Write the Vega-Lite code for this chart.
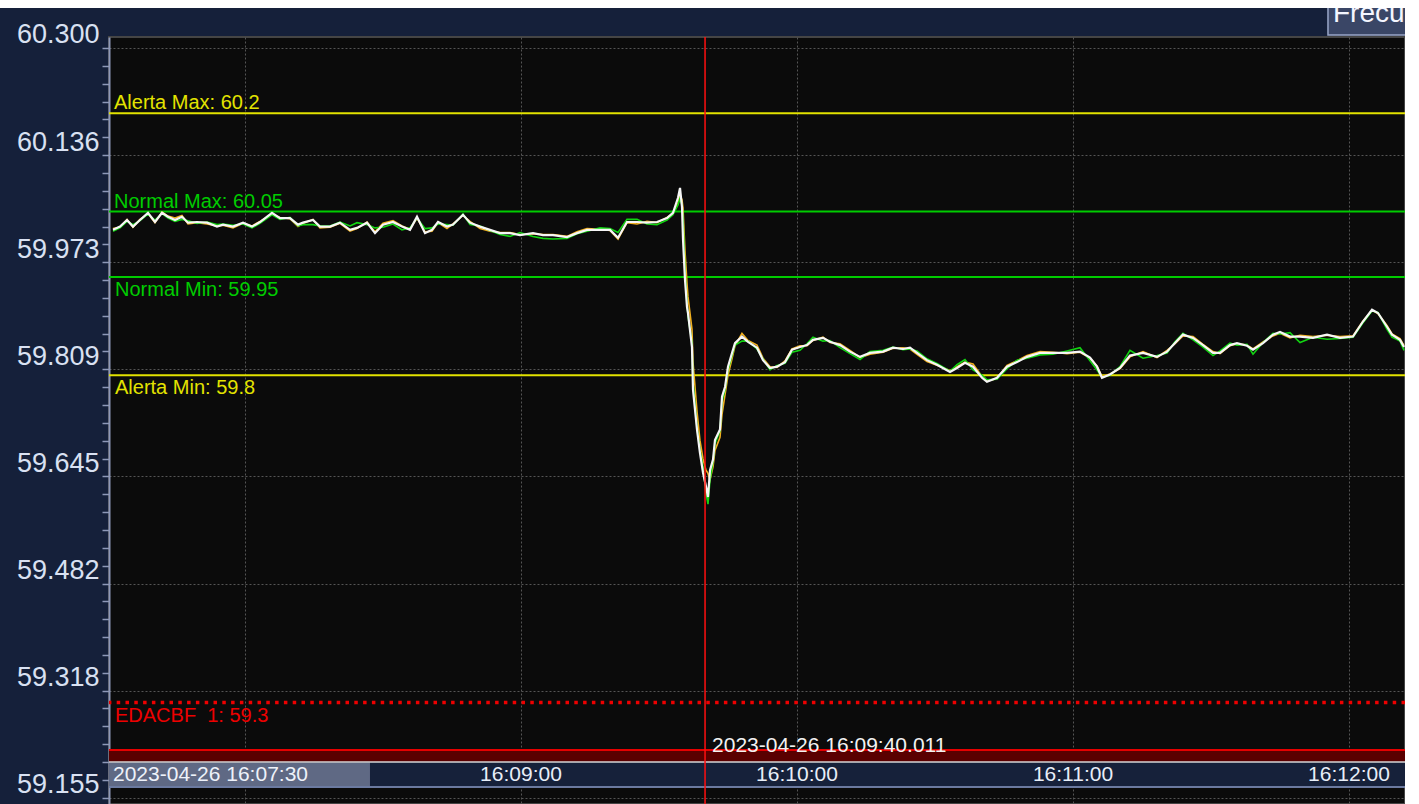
{
"$schema": "https://vega.github.io/schema/vega-lite/v6.json",
"width": 1296,
"height": 767,
"autosize": {"type": "none"},
"padding": {"left": 109, "top": 37, "right": 0, "bottom": 0},
"background": "#15203a",
"config": {"font": "Liberation Sans", "view": {"fill": "#0b0b0b", "stroke": "#454545", "strokeWidth": 2}},
"datasets": {
"freq": [
{"t":"2023-04-26T16:07:31.300","w":60.022,"g":60.020,"o":60.024},
{"t":"2023-04-26T16:07:32.830","w":60.027,"g":60.025,"o":60.026},
{"t":"2023-04-26T16:07:34.350","w":60.037,"g":60.035,"o":60.038},
{"t":"2023-04-26T16:07:35.650","w":60.027,"g":60.030,"o":60.026},
{"t":"2023-04-26T16:07:37.170","w":60.037,"g":60.036,"o":60.038},
{"t":"2023-04-26T16:07:38.910","w":60.048,"g":60.046,"o":60.047},
{"t":"2023-04-26T16:07:40.430","w":60.034,"g":60.037,"o":60.033},
{"t":"2023-04-26T16:07:41.960","w":60.048,"g":60.047,"o":60.049},
{"t":"2023-04-26T16:07:43.260","w":60.042,"g":60.040,"o":60.043},
{"t":"2023-04-26T16:07:44.780","w":60.037,"g":60.035,"o":60.040},
{"t":"2023-04-26T16:07:46.300","w":60.042,"g":60.038,"o":60.044},
{"t":"2023-04-26T16:07:47.610","w":60.033,"g":60.036,"o":60.031},
{"t":"2023-04-26T16:07:49.570","w":60.034,"g":60.032,"o":60.033},
{"t":"2023-04-26T16:07:51.740","w":60.033,"g":60.034,"o":60.031},
{"t":"2023-04-26T16:07:53.910","w":60.027,"g":60.030,"o":60.028},
{"t":"2023-04-26T16:07:55.220","w":60.030,"g":60.031,"o":60.029},
{"t":"2023-04-26T16:07:57.390","w":60.027,"g":60.029,"o":60.025},
{"t":"2023-04-26T16:07:59.570","w":60.033,"g":60.031,"o":60.032},
{"t":"2023-04-26T16:08:01.520","w":60.027,"g":60.025,"o":60.028},
{"t":"2023-04-26T16:08:03.260","w":60.034,"g":60.032,"o":60.035},
{"t":"2023-04-26T16:08:05.870","w":60.048,"g":60.045,"o":60.046},
{"t":"2023-04-26T16:08:07.610","w":60.040,"g":60.038,"o":60.041},
{"t":"2023-04-26T16:08:09.780","w":60.040,"g":60.041,"o":60.039},
{"t":"2023-04-26T16:08:11.520","w":60.030,"g":60.028,"o":60.027},
{"t":"2023-04-26T16:08:12.610","w":60.033,"g":60.030,"o":60.032},
{"t":"2023-04-26T16:08:14.780","w":60.037,"g":60.030,"o":60.038},
{"t":"2023-04-26T16:08:16.300","w":60.027,"g":60.028,"o":60.025},
{"t":"2023-04-26T16:08:18.480","w":60.027,"g":60.028,"o":60.026},
{"t":"2023-04-26T16:08:20.650","w":60.033,"g":60.034,"o":60.032},
{"t":"2023-04-26T16:08:22.830","w":60.022,"g":60.028,"o":60.020},
{"t":"2023-04-26T16:08:24.350","w":60.025,"g":60.033,"o":60.024},
{"t":"2023-04-26T16:08:26.520","w":60.033,"g":60.030,"o":60.034},
{"t":"2023-04-26T16:08:28.260","w":60.017,"g":60.025,"o":60.019},
{"t":"2023-04-26T16:08:30.000","w":60.030,"g":60.026,"o":60.032},
{"t":"2023-04-26T16:08:32.170","w":60.034,"g":60.031,"o":60.036},
{"t":"2023-04-26T16:08:34.130","w":60.027,"g":60.022,"o":60.028},
{"t":"2023-04-26T16:08:35.870","w":60.022,"g":60.025,"o":60.023},
{"t":"2023-04-26T16:08:37.390","w":60.042,"g":60.040,"o":60.040},
{"t":"2023-04-26T16:08:39.130","w":60.017,"g":60.024,"o":60.019},
{"t":"2023-04-26T16:08:40.650","w":60.022,"g":60.025,"o":60.020},
{"t":"2023-04-26T16:08:41.960","w":60.034,"g":60.031,"o":60.033},
{"t":"2023-04-26T16:08:43.910","w":60.027,"g":60.030,"o":60.024},
{"t":"2023-04-26T16:08:45.220","w":60.030,"g":60.029,"o":60.031},
{"t":"2023-04-26T16:08:47.390","w":60.045,"g":60.046,"o":60.044},
{"t":"2023-04-26T16:08:48.910","w":60.033,"g":60.030,"o":60.035},
{"t":"2023-04-26T16:08:51.090","w":60.027,"g":60.028,"o":60.024},
{"t":"2023-04-26T16:08:53.260","w":60.022,"g":60.021,"o":60.020},
{"t":"2023-04-26T16:08:55.430","w":60.017,"g":60.015,"o":60.018},
{"t":"2023-04-26T16:08:57.610","w":60.017,"g":60.012,"o":60.018},
{"t":"2023-04-26T16:08:59.780","w":60.014,"g":60.018,"o":60.015},
{"t":"2023-04-26T16:09:02.610","w":60.017,"g":60.012,"o":60.016},
{"t":"2023-04-26T16:09:04.780","w":60.014,"g":60.009,"o":60.015},
{"t":"2023-04-26T16:09:06.960","w":60.014,"g":60.008,"o":60.015},
{"t":"2023-04-26T16:09:10.000","w":60.011,"g":60.009,"o":60.012},
{"t":"2023-04-26T16:09:12.170","w":60.017,"g":60.016,"o":60.019},
{"t":"2023-04-26T16:09:14.350","w":60.022,"g":60.020,"o":60.024},
{"t":"2023-04-26T16:09:17.170","w":60.022,"g":60.025,"o":60.023},
{"t":"2023-04-26T16:09:19.350","w":60.022,"g":60.024,"o":60.021},
{"t":"2023-04-26T16:09:21.090","w":60.010,"g":60.018,"o":60.008},
{"t":"2023-04-26T16:09:23.040","w":60.034,"g":60.038,"o":60.033},
{"t":"2023-04-26T16:09:25.220","w":60.034,"g":60.038,"o":60.031},
{"t":"2023-04-26T16:09:27.390","w":60.033,"g":60.031,"o":60.035},
{"t":"2023-04-26T16:09:29.570","w":60.034,"g":60.030,"o":60.033},
{"t":"2023-04-26T16:09:31.740","w":60.040,"g":60.037,"o":60.041},
{"t":"2023-04-26T16:09:33.040","w":60.048,"g":60.045,"o":60.047},
{"t":"2023-04-26T16:09:34.130","w":60.071,"g":60.060,"o":60.062},
{"t":"2023-04-26T16:09:34.570","w":60.086,"g":60.070,"o":60.075},
{"t":"2023-04-26T16:09:35.000","w":60.057,"g":60.060,"o":60.068},
{"t":"2023-04-26T16:09:35.220","w":60.007,"g":60.040,"o":60.055},
{"t":"2023-04-26T16:09:35.650","w":59.946,"g":59.960,"o":59.990},
{"t":"2023-04-26T16:09:36.090","w":59.904,"g":59.910,"o":59.940},
{"t":"2023-04-26T16:09:36.300","w":59.895,"g":59.890,"o":59.920},
{"t":"2023-04-26T16:09:37.170","w":59.843,"g":59.850,"o":59.870},
{"t":"2023-04-26T16:09:37.390","w":59.778,"g":59.790,"o":59.820},
{"t":"2023-04-26T16:09:38.260","w":59.717,"g":59.720,"o":59.745},
{"t":"2023-04-26T16:09:38.910","w":59.681,"g":59.685,"o":59.700},
{"t":"2023-04-26T16:09:39.570","w":59.651,"g":59.660,"o":59.672},
{"t":"2023-04-26T16:09:40.220","w":59.630,"g":59.620,"o":59.655},
{"t":"2023-04-26T16:09:40.650","w":59.614,"g":59.603,"o":59.650},
{"t":"2023-04-26T16:09:41.090","w":59.655,"g":59.640,"o":59.640},
{"t":"2023-04-26T16:09:41.740","w":59.671,"g":59.668,"o":59.660},
{"t":"2023-04-26T16:09:42.170","w":59.701,"g":59.695,"o":59.685},
{"t":"2023-04-26T16:09:43.260","w":59.717,"g":59.715,"o":59.705},
{"t":"2023-04-26T16:09:43.700","w":59.767,"g":59.760,"o":59.740},
{"t":"2023-04-26T16:09:44.350","w":59.782,"g":59.778,"o":59.770},
{"t":"2023-04-26T16:09:45.000","w":59.813,"g":59.808,"o":59.800},
{"t":"2023-04-26T16:09:45.870","w":59.834,"g":59.830,"o":59.825},
{"t":"2023-04-26T16:09:46.520","w":59.849,"g":59.846,"o":59.845},
{"t":"2023-04-26T16:09:48.040","w":59.859,"g":59.852,"o":59.864},
{"t":"2023-04-26T16:09:49.350","w":59.851,"g":59.852,"o":59.853},
{"t":"2023-04-26T16:09:51.300","w":59.842,"g":59.840,"o":59.846},
{"t":"2023-04-26T16:09:52.610","w":59.823,"g":59.825,"o":59.826},
{"t":"2023-04-26T16:09:54.130","w":59.811,"g":59.808,"o":59.813},
{"t":"2023-04-26T16:09:55.650","w":59.813,"g":59.815,"o":59.812},
{"t":"2023-04-26T16:09:57.390","w":59.820,"g":59.818,"o":59.822},
{"t":"2023-04-26T16:09:58.910","w":59.839,"g":59.835,"o":59.840},
{"t":"2023-04-26T16:10:00.650","w":59.843,"g":59.838,"o":59.845},
{"t":"2023-04-26T16:10:02.170","w":59.846,"g":59.848,"o":59.845},
{"t":"2023-04-26T16:10:03.480","w":59.854,"g":59.858,"o":59.853},
{"t":"2023-04-26T16:10:05.650","w":59.857,"g":59.852,"o":59.858},
{"t":"2023-04-26T16:10:07.170","w":59.851,"g":59.853,"o":59.850},
{"t":"2023-04-26T16:10:09.350","w":59.846,"g":59.842,"o":59.848},
{"t":"2023-04-26T16:10:11.520","w":59.836,"g":59.833,"o":59.838},
{"t":"2023-04-26T16:10:13.700","w":59.828,"g":59.824,"o":59.827},
{"t":"2023-04-26T16:10:15.870","w":59.834,"g":59.836,"o":59.832},
{"t":"2023-04-26T16:10:18.700","w":59.836,"g":59.838,"o":59.835},
{"t":"2023-04-26T16:10:20.870","w":59.842,"g":59.843,"o":59.841},
{"t":"2023-04-26T16:10:23.040","w":59.840,"g":59.839,"o":59.842},
{"t":"2023-04-26T16:10:24.570","w":59.842,"g":59.840,"o":59.840},
{"t":"2023-04-26T16:10:26.090","w":59.834,"g":59.837,"o":59.832},
{"t":"2023-04-26T16:10:28.260","w":59.823,"g":59.825,"o":59.821},
{"t":"2023-04-26T16:10:30.430","w":59.816,"g":59.818,"o":59.815},
{"t":"2023-04-26T16:10:33.260","w":59.805,"g":59.806,"o":59.807},
{"t":"2023-04-26T16:10:34.780","w":59.811,"g":59.816,"o":59.813},
{"t":"2023-04-26T16:10:36.520","w":59.819,"g":59.824,"o":59.820},
{"t":"2023-04-26T16:10:38.260","w":59.813,"g":59.808,"o":59.817},
{"t":"2023-04-26T16:10:40.220","w":59.796,"g":59.800,"o":59.798},
{"t":"2023-04-26T16:10:41.300","w":59.790,"g":59.793,"o":59.791},
{"t":"2023-04-26T16:10:43.480","w":59.796,"g":59.794,"o":59.795},
{"t":"2023-04-26T16:10:45.650","w":59.813,"g":59.810,"o":59.815},
{"t":"2023-04-26T16:10:47.830","w":59.820,"g":59.823,"o":59.822},
{"t":"2023-04-26T16:10:50.000","w":59.828,"g":59.826,"o":59.830},
{"t":"2023-04-26T16:10:52.830","w":59.834,"g":59.831,"o":59.836},
{"t":"2023-04-26T16:10:55.650","w":59.834,"g":59.832,"o":59.835},
{"t":"2023-04-26T16:10:58.700","w":59.834,"g":59.837,"o":59.833},
{"t":"2023-04-26T16:11:01.520","w":59.836,"g":59.842,"o":59.835},
{"t":"2023-04-26T16:11:03.700","w":59.827,"g":59.822,"o":59.826},
{"t":"2023-04-26T16:11:05.220","w":59.813,"g":59.808,"o":59.814},
{"t":"2023-04-26T16:11:06.300","w":59.796,"g":59.797,"o":59.798},
{"t":"2023-04-26T16:11:08.040","w":59.801,"g":59.800,"o":59.802},
{"t":"2023-04-26T16:11:10.220","w":59.811,"g":59.813,"o":59.810},
{"t":"2023-04-26T16:11:12.390","w":59.830,"g":59.838,"o":59.828},
{"t":"2023-04-26T16:11:15.220","w":59.834,"g":59.826,"o":59.836},
{"t":"2023-04-26T16:11:18.260","w":59.828,"g":59.830,"o":59.827},
{"t":"2023-04-26T16:11:20.430","w":59.836,"g":59.834,"o":59.838},
{"t":"2023-04-26T16:11:22.170","w":59.849,"g":59.851,"o":59.848},
{"t":"2023-04-26T16:11:23.910","w":59.862,"g":59.864,"o":59.860},
{"t":"2023-04-26T16:11:26.090","w":59.857,"g":59.854,"o":59.859},
{"t":"2023-04-26T16:11:28.260","w":59.846,"g":59.843,"o":59.847},
{"t":"2023-04-26T16:11:30.430","w":59.834,"g":59.830,"o":59.836},
{"t":"2023-04-26T16:11:31.960","w":59.834,"g":59.837,"o":59.833},
{"t":"2023-04-26T16:11:34.130","w":59.846,"g":59.849,"o":59.845},
{"t":"2023-04-26T16:11:35.650","w":59.849,"g":59.846,"o":59.848},
{"t":"2023-04-26T16:11:37.830","w":59.845,"g":59.847,"o":59.846},
{"t":"2023-04-26T16:11:39.130","w":59.839,"g":59.832,"o":59.840},
{"t":"2023-04-26T16:11:41.300","w":59.849,"g":59.850,"o":59.851},
{"t":"2023-04-26T16:11:43.480","w":59.862,"g":59.864,"o":59.860},
{"t":"2023-04-26T16:11:45.000","w":59.866,"g":59.863,"o":59.864},
{"t":"2023-04-26T16:11:47.170","w":59.859,"g":59.865,"o":59.857},
{"t":"2023-04-26T16:11:49.350","w":59.859,"g":59.850,"o":59.861},
{"t":"2023-04-26T16:11:52.170","w":59.857,"g":59.858,"o":59.859},
{"t":"2023-04-26T16:11:55.220","w":59.862,"g":59.855,"o":59.861},
{"t":"2023-04-26T16:11:58.040","w":59.857,"g":59.856,"o":59.859},
{"t":"2023-04-26T16:12:00.870","w":59.859,"g":59.858,"o":59.860},
{"t":"2023-04-26T16:12:03.040","w":59.882,"g":59.880,"o":59.883},
{"t":"2023-04-26T16:12:05.000","w":59.900,"g":59.898,"o":59.899},
{"t":"2023-04-26T16:12:06.300","w":59.895,"g":59.896,"o":59.894},
{"t":"2023-04-26T16:12:08.260","w":59.874,"g":59.870,"o":59.876},
{"t":"2023-04-26T16:12:09.350","w":59.862,"g":59.858,"o":59.863},
{"t":"2023-04-26T16:12:11.090","w":59.854,"g":59.852,"o":59.856},
{"t":"2023-04-26T16:12:11.960","w":59.843,"g":59.838,"o":59.845}
],
"limits": [
{"name":"Alerta Max","value":60.2,"kind":"alerta","side":"max","label":"Alerta Max: 60.2"},
{"name":"Normal Max","value":60.05,"kind":"normal","side":"max","label":"Normal Max: 60.05"},
{"name":"Normal Min","value":59.95,"kind":"normal","side":"min","label":"Normal Min: 59.95"},
{"name":"Alerta Min","value":59.8,"kind":"alerta","side":"min","label":"Alerta Min: 59.8"},
{"name":"EDACBF 1","value":59.3,"kind":"edac","side":"min","label":"EDACBF\u00a0 1: 59.3"}
],
"timelabels": [
{"t":"2023-04-26T16:09:00.000","label":"16:09:00"},
{"t":"2023-04-26T16:10:00.000","label":"16:10:00"},
{"t":"2023-04-26T16:11:00.000","label":"16:11:00"},
{"t":"2023-04-26T16:12:00.000","label":"16:12:00"}
],
"start": [
{"t":"2023-04-26T16:07:30.000","label":"2023-04-26 16:07:30"}
],
"cursor": [
{"t":"2023-04-26T16:09:40.011","label":"2023-04-26 16:09:40.011"}
],
"tab": [
{"t":"2023-04-26T16:11:56.520","label":"Frecuencia"}
]
},
"layer": [
{
"data": {"values": [{}]},
"mark": {"type": "rect", "fill": "#5a0000"},
"encoding": {
"y": {"datum": 59.2275, "type": "quantitative", "scale": {"domain": [59.145, 60.3166], "nice": false, "zero": false}},
"y2": {"datum": 59.2092}
}
},
{
"data": {"values": [{}]},
"mark": {"type": "rule", "color": "#e60000", "strokeWidth": 2},
"encoding": {
"y": {"datum": 59.2275, "type": "quantitative", "scale": {"domain": [59.145, 60.3166], "nice": false, "zero": false}}
}
},
{
"data": {"name": "limits"},
"transform": [{"filter": "datum.kind != 'edac'"}],
"mark": {"type": "rule", "strokeWidth": 2},
"encoding": {
"y": {"field": "value", "type": "quantitative",
 "scale": {"domain": [59.145, 60.3166], "nice": false, "zero": false},
 "axis": {
  "values": [59.1546,59.18187,59.20913,59.2364,59.26367,59.29093,59.3182,59.34547,59.37273,59.4,59.42727,59.45453,59.4818,59.50907,59.53633,59.5636,59.59087,59.61813,59.6454,59.67267,59.69993,59.7272,59.75447,59.78173,59.809,59.83627,59.86353,59.8908,59.91807,59.94533,59.9726,59.99987,60.02713,60.0544,60.08167,60.10893,60.1362,60.16347,60.19073,60.218,60.24527,60.27253,60.2998],
  "tickCount": 200,
  "title": null,
  "labelExpr": "abs((datum.value-59.1546)/0.1636-round((datum.value-59.1546)/0.1636))<0.05 ? format(datum.value,'.3f') : ''",
  "labelFontSize": 27, "labelColor": "#d9e1f2", "labelFont": "Liberation Sans",
  "labelBaseline": "alphabetic", "labelOffset": -5, "labelPadding": 3,
  "labelOverlap": false, "labelFlush": false, "labelBound": false,
  "tickSize": 7, "tickColor": "#8e98b8", "tickWidth": 1.5,
  "domainColor": "#8e98b8", "domainWidth": 2,
  "grid": true, "gridColor": "#555555", "gridDash": [2, 2], "gridWidth": 1,
  "gridOpacity": {"condition": {"test": "abs((datum.value-59.1546)/0.1636-round((datum.value-59.1546)/0.1636))<0.05", "value": 1}, "value": 0}
 }},
"color": {"field": "kind", "type": "nominal", "scale": {"domain": ["alerta", "normal", "edac"], "range": ["#e3e300", "#00cc00", "#ee0000"]}, "legend": null}
}
},
{
"data": {"name": "limits"},
"transform": [{"filter": "datum.kind == 'edac'"}],
"mark": {"type": "rule", "color": "#ee0000", "strokeWidth": 3.5, "strokeDash": [3.5, 5.3]},
"encoding": {
"y": {"field": "value", "type": "quantitative", "scale": {"domain": [59.145, 60.3166], "nice": false, "zero": false}}
}
},
{
"data": {"name": "limits"},
"transform": [{"filter": "datum.side == 'max'"}],
"mark": {"type": "text", "align": "left", "baseline": "alphabetic", "dx": 5, "dy": -4, "fontSize": 20},
"encoding": {
"x": {"datum": {"year": 2023, "month": 4, "date": 26, "hours": 16, "minutes": 7, "seconds": 30, "milliseconds": 435}, "type": "temporal",
 "scale": {"domain": [{"year": 2023, "month": 4, "date": 26, "hours": 16, "minutes": 7, "seconds": 30, "milliseconds": 435}, {"year": 2023, "month": 4, "date": 26, "hours": 16, "minutes": 12, "seconds": 12, "milliseconds": 174}], "nice": false}},
"y": {"field": "value", "type": "quantitative", "scale": {"domain": [59.145, 60.3166], "nice": false, "zero": false}},
"text": {"field": "label"},
"color": {"field": "kind", "type": "nominal", "scale": {"domain": ["alerta", "normal", "edac"], "range": ["#e3e300", "#00cc00", "#ee0000"]}, "legend": null}
}
},
{
"data": {"name": "limits"},
"transform": [{"filter": "datum.side == 'min'"}],
"mark": {"type": "text", "align": "left", "baseline": "alphabetic", "dx": 6, "dy": 19, "fontSize": 20},
"encoding": {
"x": {"datum": {"year": 2023, "month": 4, "date": 26, "hours": 16, "minutes": 7, "seconds": 30, "milliseconds": 435}, "type": "temporal",
 "scale": {"domain": [{"year": 2023, "month": 4, "date": 26, "hours": 16, "minutes": 7, "seconds": 30, "milliseconds": 435}, {"year": 2023, "month": 4, "date": 26, "hours": 16, "minutes": 12, "seconds": 12, "milliseconds": 174}], "nice": false}},
"y": {"field": "value", "type": "quantitative", "scale": {"domain": [59.145, 60.3166], "nice": false, "zero": false}},
"text": {"field": "label"},
"color": {"field": "kind", "type": "nominal", "scale": {"domain": ["alerta", "normal", "edac"], "range": ["#e3e300", "#00cc00", "#ee0000"]}, "legend": null}
}
},
{
"data": {"name": "freq"},
"mark": {"type": "line", "color": "#f0b020", "strokeWidth": 1.6},
"encoding": {
"x": {"field": "t", "type": "temporal",
 "scale": {"domain": [{"year": 2023, "month": 4, "date": 26, "hours": 16, "minutes": 7, "seconds": 30, "milliseconds": 435}, {"year": 2023, "month": 4, "date": 26, "hours": 16, "minutes": 12, "seconds": 12, "milliseconds": 174}], "nice": false},
 "axis": {"values": [{"year": 2023, "month": 4, "date": 26, "hours": 16, "minutes": 8}, {"year": 2023, "month": 4, "date": 26, "hours": 16, "minutes": 9}, {"year": 2023, "month": 4, "date": 26, "hours": 16, "minutes": 10}, {"year": 2023, "month": 4, "date": 26, "hours": 16, "minutes": 11}, {"year": 2023, "month": 4, "date": 26, "hours": 16, "minutes": 12}],
  "tickCount": 50, "labels": false, "ticks": false, "domain": false, "title": null, "grid": true, "gridColor": "#555555", "gridDash": [2, 2], "gridWidth": 1}},
"y": {"field": "o", "type": "quantitative", "scale": {"domain": [59.145, 60.3166], "nice": false, "zero": false}}
}
},
{
"data": {"name": "freq"},
"mark": {"type": "line", "color": "#12d412", "strokeWidth": 1.6},
"encoding": {
"x": {"field": "t", "type": "temporal", "scale": {"domain": [{"year": 2023, "month": 4, "date": 26, "hours": 16, "minutes": 7, "seconds": 30, "milliseconds": 435}, {"year": 2023, "month": 4, "date": 26, "hours": 16, "minutes": 12, "seconds": 12, "milliseconds": 174}], "nice": false}},
"y": {"field": "g", "type": "quantitative", "scale": {"domain": [59.145, 60.3166], "nice": false, "zero": false}}
}
},
{
"data": {"name": "freq"},
"mark": {"type": "line", "color": "#f6f6f6", "strokeWidth": 2.2},
"encoding": {
"x": {"field": "t", "type": "temporal", "scale": {"domain": [{"year": 2023, "month": 4, "date": 26, "hours": 16, "minutes": 7, "seconds": 30, "milliseconds": 435}, {"year": 2023, "month": 4, "date": 26, "hours": 16, "minutes": 12, "seconds": 12, "milliseconds": 174}], "nice": false}},
"y": {"field": "w", "type": "quantitative", "scale": {"domain": [59.145, 60.3166], "nice": false, "zero": false}}
}
},
{
"data": {"values": [{}]},
"mark": {"type": "rect", "fill": "#16213a"},
"encoding": {
"y": {"datum": 59.2092, "type": "quantitative", "scale": {"domain": [59.145, 60.3166], "nice": false, "zero": false}},
"y2": {"datum": 59.1710}
}
},
{
"data": {"values": [{}]},
"mark": {"type": "rect", "fill": "#5f6984"},
"encoding": {
"x": {"datum": {"year": 2023, "month": 4, "date": 26, "hours": 16, "minutes": 7, "seconds": 30, "milliseconds": 435}, "type": "temporal", "scale": {"domain": [{"year": 2023, "month": 4, "date": 26, "hours": 16, "minutes": 7, "seconds": 30, "milliseconds": 435}, {"year": 2023, "month": 4, "date": 26, "hours": 16, "minutes": 12, "seconds": 12, "milliseconds": 174}], "nice": false}},
"x2": {"datum": {"year": 2023, "month": 4, "date": 26, "hours": 16, "minutes": 8, "seconds": 27, "milliseconds": 170}},
"y": {"datum": 59.2085, "type": "quantitative", "scale": {"domain": [59.145, 60.3166], "nice": false, "zero": false}},
"y2": {"datum": 59.1717}
}
},
{
"data": {"values": [{}]},
"mark": {"type": "rule", "color": "#d6d6d6", "strokeWidth": 1.5},
"encoding": {
"y": {"datum": 59.2092, "type": "quantitative", "scale": {"domain": [59.145, 60.3166], "nice": false, "zero": false}}
}
},
{
"data": {"values": [{}]},
"mark": {"type": "rule", "color": "#6b7aa0", "strokeWidth": 2},
"encoding": {
"y": {"datum": 59.1710, "type": "quantitative", "scale": {"domain": [59.145, 60.3166], "nice": false, "zero": false}}
}
},
{
"data": {"name": "timelabels"},
"mark": {"type": "text", "align": "center", "baseline": "middle", "fontSize": 21, "color": "#e8eef8"},
"encoding": {
"x": {"field": "t", "type": "temporal", "scale": {"domain": [{"year": 2023, "month": 4, "date": 26, "hours": 16, "minutes": 7, "seconds": 30, "milliseconds": 435}, {"year": 2023, "month": 4, "date": 26, "hours": 16, "minutes": 12, "seconds": 12, "milliseconds": 174}], "nice": false}},
"y": {"datum": 59.1893, "type": "quantitative", "scale": {"domain": [59.145, 60.3166], "nice": false, "zero": false}},
"text": {"field": "label"}
}
},
{
"data": {"name": "start"},
"mark": {"type": "text", "align": "left", "baseline": "middle", "dx": 6, "fontSize": 21, "color": "#eef2fa"},
"encoding": {
"x": {"field": "t", "type": "temporal", "scale": {"domain": [{"year": 2023, "month": 4, "date": 26, "hours": 16, "minutes": 7, "seconds": 30, "milliseconds": 435}, {"year": 2023, "month": 4, "date": 26, "hours": 16, "minutes": 12, "seconds": 12, "milliseconds": 174}], "nice": false}},
"y": {"datum": 59.1893, "type": "quantitative", "scale": {"domain": [59.145, 60.3166], "nice": false, "zero": false}},
"text": {"field": "label"}
}
},
{
"data": {"name": "cursor"},
"mark": {"type": "rule", "color": "#ff1010", "strokeWidth": 1.5},
"encoding": {
"x": {"field": "t", "type": "temporal", "scale": {"domain": [{"year": 2023, "month": 4, "date": 26, "hours": 16, "minutes": 7, "seconds": 30, "milliseconds": 435}, {"year": 2023, "month": 4, "date": 26, "hours": 16, "minutes": 12, "seconds": 12, "milliseconds": 174}], "nice": false}}
}
},
{
"data": {"name": "cursor"},
"mark": {"type": "text", "align": "left", "baseline": "middle", "dx": 7, "fontSize": 21, "color": "#f2f2f2"},
"encoding": {
"x": {"field": "t", "type": "temporal", "scale": {"domain": [{"year": 2023, "month": 4, "date": 26, "hours": 16, "minutes": 7, "seconds": 30, "milliseconds": 435}, {"year": 2023, "month": 4, "date": 26, "hours": 16, "minutes": 12, "seconds": 12, "milliseconds": 174}], "nice": false}},
"y": {"datum": 59.2336, "type": "quantitative", "scale": {"domain": [59.145, 60.3166], "nice": false, "zero": false}},
"text": {"field": "label"}
}
},
{
"data": {"values": [{}]},
"mark": {"type": "rect", "fill": "#3a4666", "stroke": "#9aa6c8", "strokeWidth": 1.5, "clip": false},
"encoding": {
"x": {"datum": {"year": 2023, "month": 4, "date": 26, "hours": 16, "minutes": 11, "seconds": 55, "milliseconds": 430}, "type": "temporal", "scale": {"domain": [{"year": 2023, "month": 4, "date": 26, "hours": 16, "minutes": 7, "seconds": 30, "milliseconds": 435}, {"year": 2023, "month": 4, "date": 26, "hours": 16, "minutes": 12, "seconds": 12, "milliseconds": 174}], "nice": false}},
"x2": {"datum": {"year": 2023, "month": 4, "date": 26, "hours": 16, "minutes": 12, "seconds": 14, "milliseconds": 0}},
"y": {"datum": 60.3197, "type": "quantitative", "scale": {"domain": [59.145, 60.3166], "nice": false, "zero": false}},
"y2": {"datum": 60.38}
}
},
{
"data": {"name": "tab"},
"mark": {"type": "text", "align": "left", "baseline": "alphabetic", "fontSize": 28, "color": "#f4f6ff", "clip": false},
"encoding": {
"x": {"field": "t", "type": "temporal", "scale": {"domain": [{"year": 2023, "month": 4, "date": 26, "hours": 16, "minutes": 7, "seconds": 30, "milliseconds": 435}, {"year": 2023, "month": 4, "date": 26, "hours": 16, "minutes": 12, "seconds": 12, "milliseconds": 174}], "nice": false}},
"y": {"datum": 60.3395, "type": "quantitative", "scale": {"domain": [59.145, 60.3166], "nice": false, "zero": false}},
"text": {"field": "label"}
}
},
{
"data": {"values": [{}]},
"mark": {"type": "rect", "fill": "#ffffff", "clip": false},
"encoding": {
"x": {"datum": {"year": 2023, "month": 4, "date": 26, "hours": 16, "minutes": 7, "seconds": 0}, "type": "temporal", "scale": {"domain": [{"year": 2023, "month": 4, "date": 26, "hours": 16, "minutes": 7, "seconds": 30, "milliseconds": 435}, {"year": 2023, "month": 4, "date": 26, "hours": 16, "minutes": 12, "seconds": 12, "milliseconds": 174}], "nice": false}},
"x2": {"datum": {"year": 2023, "month": 4, "date": 26, "hours": 16, "minutes": 12, "seconds": 20}},
"y": {"datum": 60.3609, "type": "quantitative", "scale": {"domain": [59.145, 60.3166], "nice": false, "zero": false}},
"y2": {"datum": 60.42}
}
}
]
}
